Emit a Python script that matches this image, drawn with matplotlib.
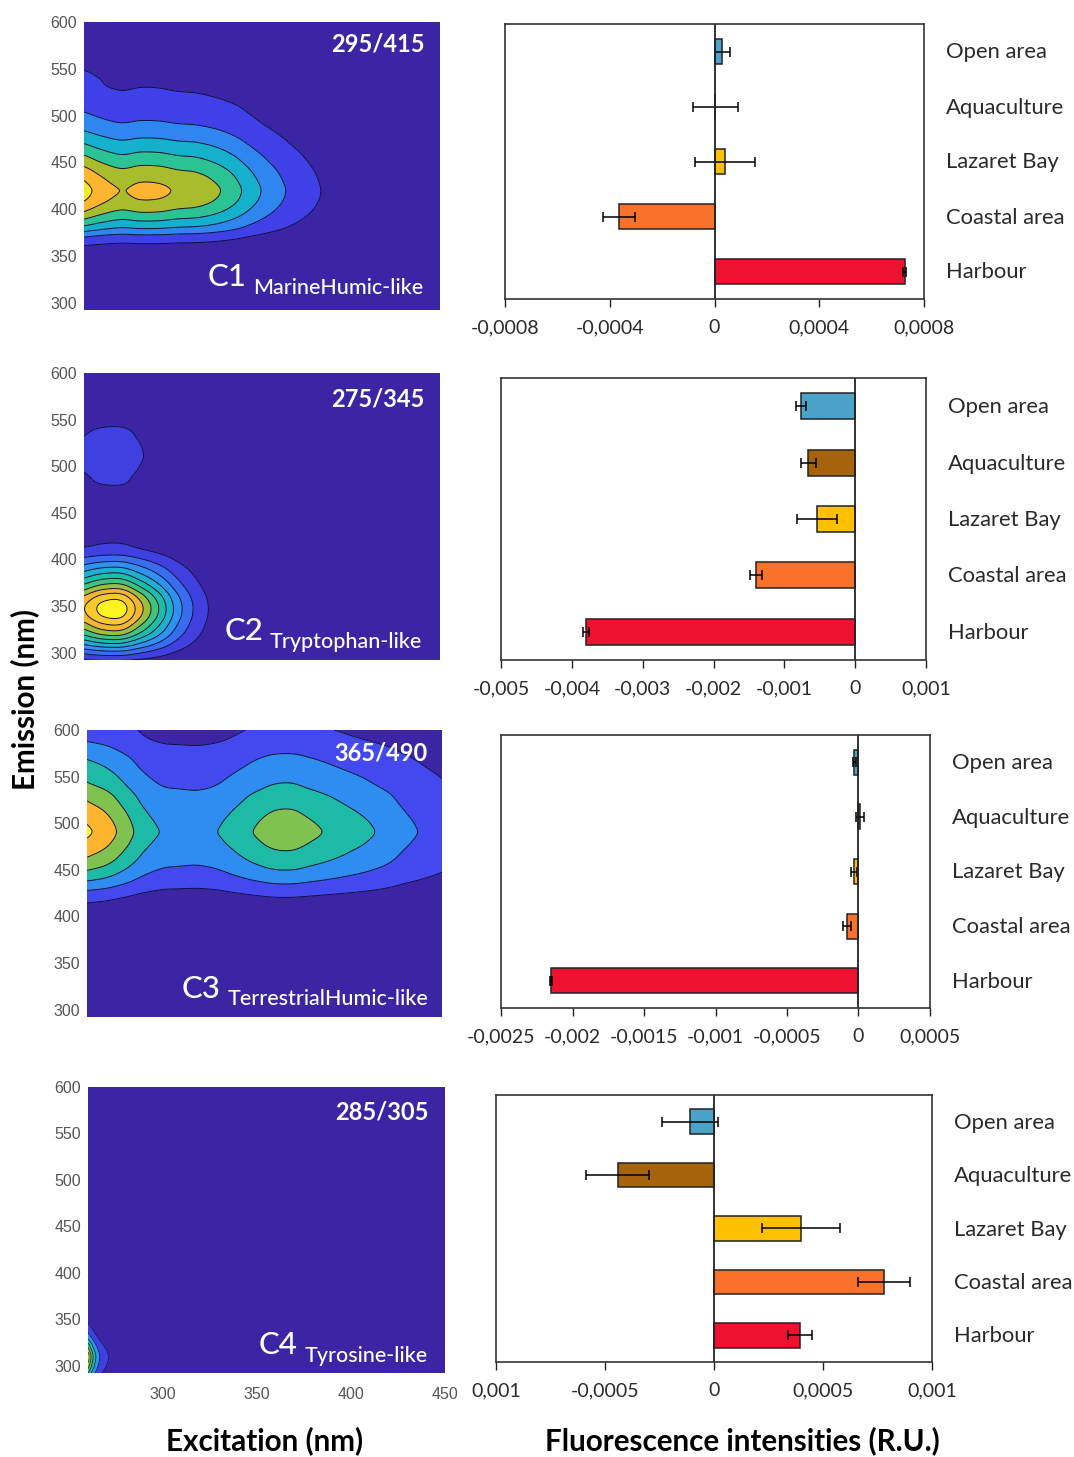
import numpy as np
import matplotlib
matplotlib.use('Agg')
import matplotlib.pyplot as plt
from matplotlib.transforms import ScaledTranslation

W, H = 1074, 1457

# excitation / emission grids (nm)
ex_nm = [260, 270, 280, 290, 300, 310, 320, 330, 340, 350, 360, 370, 380, 390, 400, 410, 420, 430, 440, 450]
em_nm = [290, 300, 310, 320, 330, 340, 350, 360, 370, 380, 390, 400, 410, 420, 430, 440,
         450, 460, 470, 480, 490, 500, 510, 520, 530, 540, 550, 560, 570, 580, 590, 600]
c4_ex_nm = [260, 262, 264, 266, 268, 270, 272, 280, 290, 300, 350, 400, 450]

# loadings
c1_ex = [7.4, 6.5, 5.98, 6.25, 6.2, 5.88, 5.7, 5.2, 4.4, 3.4, 2.55, 1.85, 1.3, 0.85, 0.5, 0.3, 0.18, 0.1, 0.05, 0.02]
c1_em = [0, 0, 0, 0, 0, 0.01, 0.04, 0.125, 0.27, 0.5, 0.69, 0.85, 0.96, 1.0, 0.95, 0.87,
         0.76, 0.65, 0.54, 0.44, 0.35, 0.29, 0.24, 0.19, 0.16, 0.15, 0.13, 0.08, 0.05, 0.03, 0.02, 0.01]
c2_ex = [9.0, 10.4, 10.5, 8.4, 6.0, 3.5, 1.75, 0.7, 0.3, 0.12, 0.05, 0.02, 0, 0, 0, 0, 0, 0, 0, 0]
c2_em = [0.07, 0.25, 0.476, 0.69, 0.85, 0.97, 0.99, 0.9, 0.725, 0.555, 0.4, 0.25, 0.13, 0.085, 0.05, 0.03,
         0.02, 0.03, 0.06, 0.095, 0.107, 0.118, 0.125, 0.122, 0.113, 0.1, 0.07, 0.04, 0.02, 0.01, 0, 0]
c3_ex = [6.15, 5.55, 4.55, 3.5, 2.95, 2.82, 2.78, 3.0, 3.5, 4.05, 4.5, 4.55, 4.2, 3.85, 3.5, 3.15, 2.75, 2.25, 1.9, 1.6]
c3_em = [0, 0, 0, 0, 0, 0, 0, 0, 0, 0, 0.03, 0.07, 0.13, 0.215, 0.36, 0.52,
         0.66, 0.78, 0.87, 0.95, 1.0, 0.97, 0.91, 0.84, 0.77, 0.68, 0.61, 0.54, 0.476, 0.39, 0.31, 0.265]
c4_ex = [6.6, 4.6, 3.1, 2.1, 1.5, 1.15, 0.8, 0.08, 0, 0, 0, 0, 0]
c4_em = [0.55, 0.85, 1.0, 0.75, 0.42, 0.22, 0.115, 0.05, 0.02, 0, 0, 0, 0, 0, 0, 0,
         0, 0, 0, 0, 0, 0, 0, 0, 0, 0, 0, 0, 0, 0, 0, 0]

peak_labels = ['295/415', '275/345', '365/490', '285/305']
comp_names = ['C1', 'C2', 'C3', 'C4']
comp_types = ['MarineHumic-like', 'Tryptophan-like', 'TerrestrialHumic-like', 'Tyrosine-like']

colors_c1 = ['#3b25a5', '#4040e8', '#2f86f0', '#14b0cc', '#2cc394', '#a9bd2c', '#fdb42e', '#f5eb1e']
colors_c2 = ['#3b25a5', '#4040e0', '#3a6cf0', '#2f92f0', '#1fb0d0', '#1abfa8', '#3cc57e', '#9bbf38',
             '#f2b72e', '#f9c92b', '#fcf21e']
colors_c3 = ['#3b25a5', '#4349ee', '#2f8cf0', '#1dbba5', '#7fc24f', '#fdb52e', '#fcf21e']
colors_c4 = ['#3b25a5', '#4040e0', '#2f92f0', '#1abfa8', '#3cc57e', '#9bbf38', '#fcf21e']

# bar panels
sites = ['Open area', 'Aquaculture', 'Lazaret Bay', 'Coastal area', 'Harbour']
site_colors = ['#4ba3c9', '#a5640b', '#ffc000', '#f9722b', '#ee1230']
vals = [[0.00003, 0.000003, 0.00004, -0.000365, 0.000727],
        [-0.00076, -0.00066, -0.00054, -0.0014, -0.0038],
        [-0.00003, 0.00001, -0.00003, -0.00008, -0.00215],
        [-0.00011, -0.000442, 0.0004, 0.00078, 0.000393]]
errs = [[0.000028, 0.000087, 0.000115, 0.00006, 0.000006],
        [0.00007, 0.00011, 0.00028, 0.00008, 0.00004],
        [0.00001, 0.00003, 0.00002, 0.00003, 0.00001],
        [0.000127, 0.000144, 0.00018, 0.000119, 0.000055]]
xlims = [(-0.0008, 0.0008), (-0.005, 0.001), (-0.0025, 0.0005), (-0.001, 0.001)]
xticks = [[-0.0008, -0.0004, 0, 0.0004, 0.0008],
          [-0.005, -0.004, -0.003, -0.002, -0.001, 0, 0.001],
          [-0.0025, -0.002, -0.0015, -0.001, -0.0005, 0, 0.0005],
          [-0.001, -0.0005, 0, 0.0005, 0.001]]
xticklabels = [['-0,0008', '-0,0004', '0', '0,0004', '0,0008'],
               ['-0,005', '-0,004', '-0,003', '-0,002', '-0,001', '0', '0,001'],
               ['-0,0025', '-0,002', '-0,0015', '-0,001', '-0,0005', '0', '0,0005'],
               ['0,001', '-0,0005', '0', '0,0005', '0,001']]

fig = plt.figure(figsize=(W / 100, H / 100), dpi=100)


def px_axes(left, top, right, bottom):
    return fig.add_axes([left / W, 1 - bottom / H, (right - left) / W, (bottom - top) / H])


def px_text(x, y, s, **kw):
    return fig.text(x / W, 1 - y / H, s, **kw)


def hermite(x, y, xf):
    # cubic through the read values, only so the contour lines are not angular
    x = np.array(x, float)
    y = np.array(y, float)
    m = np.gradient(y, x)
    i = np.clip(np.searchsorted(x, xf, side='right') - 1, 0, len(x) - 2)
    h = x[i + 1] - x[i]
    t = (xf - x[i]) / h
    out = ((2 * t**3 - 3 * t**2 + 1) * y[i] + (t**3 - 2 * t**2 + t) * h * m[i]
           + (-2 * t**3 + 3 * t**2) * y[i + 1] + (t**3 - t**2) * h * m[i + 1])
    return np.clip(out, 0, None)


# contour panels
fields = [(ex_nm, c1_ex, c1_em, colors_c1), (ex_nm, c2_ex, c2_em, colors_c2),
          (ex_nm, c3_ex, c3_em, colors_c3), (c4_ex_nm, c4_ex, c4_em, colors_c4)]
contour_boxes = [(84, 22, 440, 310), (84, 373, 440, 660), (87, 730, 442, 1017), (88, 1087, 445, 1373)]
peak_xy = [(425, 44), (425, 399), (428, 753), (429, 1112)]
comp_xy = [(208, 277), (225, 631), (182, 989), (259, 1345)]
type_xy = [(253, 288), (270, 642), (228, 999), (305, 1356)]
line_w = [0.7, 0.7, 0.7, 0.5]
fine_ex = np.linspace(260, 450, 761)
fine_em = np.linspace(290, 600, 621)

for i in range(4):
    xs, ex, em, cols = fields[i]
    box = contour_boxes[i]
    ax = px_axes(*box)
    z = np.outer(hermite(em_nm, em, fine_em), hermite(xs, ex, fine_ex))
    lev = list(range(1, len(cols)))
    ax.contourf(fine_ex, fine_em, z, levels=[-1] + lev + [100], colors=cols)
    ax.contour(fine_ex, fine_em, z, levels=lev, colors='#10103a', linewidths=line_w[i])
    ax.set_xlim(260, 450)
    ax.set_ylim(292, 600)
    ax.set_yticks([300, 350, 400, 450, 500, 550, 600])
    ax.tick_params(length=0, labelsize=11.5, labelcolor='#555555', pad=5)
    for lab in ax.get_yticklabels():
        lab.set_family('Liberation Sans')
    if i == 3:
        ax.set_xticks([300, 350, 400, 450])
        ax.tick_params(axis='x', pad=10)
        for lab in ax.get_xticklabels():
            lab.set_family('Liberation Sans')
    else:
        ax.set_xticks([])
    for s in ax.spines.values():
        s.set_visible(False)
    px_text(peak_xy[i][0], peak_xy[i][1], peak_labels[i], color='white', family='Lato', fontsize=17,
            fontweight='bold', ha='right', va='center')
    px_text(comp_xy[i][0], comp_xy[i][1], comp_names[i], color='white', family='Lato', fontsize=22.5,
            fontweight='medium', ha='left', va='center')
    px_text(type_xy[i][0], type_xy[i][1], comp_types[i], color='white', family='Lato', fontsize=15.5,
            fontweight='medium', ha='left', va='center')

# bar panels
bar_boxes = [(505, 24, 924, 299), (501, 378, 926, 660), (501, 735, 930, 1008), (496, 1095, 932, 1362)]
for i in range(4):
    ax = px_axes(*bar_boxes[i])
    y = np.arange(5)
    ax.barh(y, vals[i], height=0.46, color=site_colors, edgecolor='#222222', linewidth=1.1,
            xerr=errs[i], error_kw=dict(ecolor='black', elinewidth=1.1, capsize=3.5, capthick=1.1))
    ax.axvline(0, color='#222222', lw=1.3)
    ax.set_xlim(*xlims[i])
    ax.set_ylim(4.5, -0.5)
    ax.set_xticks(xticks[i])
    ax.set_xticklabels(xticklabels[i], family='Lato', fontsize=14, color='#2a2a2a')
    ax.yaxis.tick_right()
    ax.set_yticks(y)
    ax.set_yticklabels(sites, family='Lato', fontsize=15.8, color='#2a2a2a')
    ax.tick_params(axis='y', length=0, pad=16)
    ax.tick_params(axis='x', length=6, width=1, color='#222222', pad=8.5)
    shift = ScaledTranslation(0, 1 / 100, fig.dpi_scale_trans)
    for lab in ax.get_yticklabels():
        lab.set_transform(lab.get_transform() + shift)
    for s in ax.spines.values():
        s.set_linewidth(1.2)
        s.set_color('#333333')

px_text(25, 699, 'Emission (nm)', family='Lato', fontsize=21.3, fontweight='bold', rotation=90,
        ha='center', va='center')
px_text(265, 1441, 'Excitation (nm)', family='Lato', fontsize=21.3, fontweight='bold', ha='center', va='center')
px_text(742, 1441, 'Fluorescence intensities (R.U.)', family='Lato', fontsize=21.3, fontweight='bold',
        ha='center', va='center')

fig.savefig('out.png', dpi=100)
